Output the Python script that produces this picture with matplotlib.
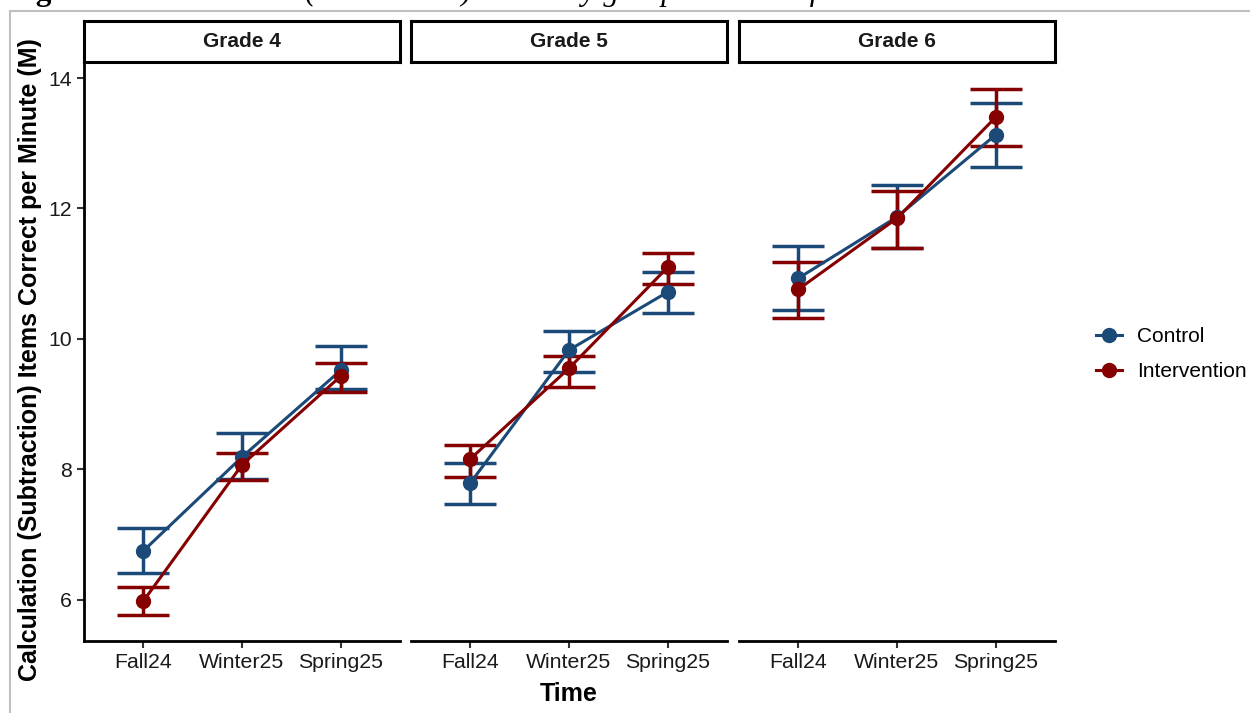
#!/usr/bin/env python3
# calculation (subtraction) scores by group over time, faceted by grade
import matplotlib
matplotlib.use('Agg')
import matplotlib.pyplot as pl
from matplotlib.lines import Line2D

pl.rcParams['font.family'] = ['Liberation Sans', 'DejaVu Sans']

times = ['Fall24', 'Winter25', 'Spring25']
grades = ['Grade 4', 'Grade 5', 'Grade 6']

# means and error bar ends, one row per grade
control_mean = [[6.75, 8.19, 9.52], [7.79, 9.83, 10.72], [10.93, 11.87, 13.13]]
control_lo = [[6.41, 7.85, 9.23], [7.47, 9.49, 10.40], [10.44, 11.39, 12.63]]
control_hi = [[7.10, 8.56, 9.89], [8.10, 10.12, 11.02], [11.42, 12.36, 13.61]]
interv_mean = [[5.98, 8.07, 9.43], [8.16, 9.55, 11.10], [10.76, 11.85, 13.40]]
interv_lo = [[5.77, 7.84, 9.19], [7.88, 9.26, 10.84], [10.32, 11.39, 12.96]]
interv_hi = [[6.20, 8.25, 9.63], [8.37, 9.74, 11.31], [11.18, 12.27, 13.83]]

blue = '#1b4a78'
red = '#850000'

W, H = 1250, 713
fig = pl.figure(figsize=(W/100, H/100), dpi=100)

def px(x, y, w, h):
    # pixel box (top-left origin) -> figure fraction
    return [x/W, 1 - (y+h)/H, w/W, h/H]

# cut-off caption and page frame from the source document
fig.text(8/W, 1 + 0.5/H, 'Figure 3.', fontsize=22.5, fontweight='bold',
         family='Liberation Serif', va='baseline')
fig.text(150/W, 1 + 0.5/H,
         'Calculation (Subtraction) scores by group over time for students in Grades 4 to 6.',
         fontsize=22.5, style='italic', family='Liberation Serif', va='baseline')
fig.add_artist(Line2D([10/W, 10/W], [0, 1 - 11/H], color='#c0c0c0', lw=1.5))
fig.add_artist(Line2D([10/W, 1], [1 - 11/H, 1 - 11/H], color='#c0c0c0', lw=1.5))

lefts = [84, 411, 739]
x = [1, 2, 3]
for i, g in enumerate(grades):
    ax = fig.add_axes(px(lefts[i], 63, 316, 578))
    for mean, lo, hi, c in [(control_mean, control_lo, control_hi, blue),
                            (interv_mean, interv_lo, interv_hi, red)]:
        m = mean[i]
        err = [[m[k] - lo[i][k] for k in range(3)], [hi[i][k] - m[k] for k in range(3)]]
        ax.errorbar(x, m, yerr=err, fmt='none', ecolor=c, elinewidth=2.5,
                    capsize=19, capthick=2.5, zorder=2)
        ax.plot(x, m, color=c, lw=2.2, marker='o', ms=10, zorder=3)
    ax.set_xlim(0.4, 3.6)
    ax.set_ylim(5.37, 14.23)
    ax.set_xticks(x)
    ax.set_xticklabels(times)
    ax.set_yticks([6, 8, 10, 12, 14])
    ax.tick_params(axis='both', length=5, width=1.5, colors='#333333', labelcolor='#1a1a1a',
                   labelsize=15.3, pad=4)
    for s in ['top', 'right']:
        ax.spines[s].set_visible(False)
    ax.spines['bottom'].set_linewidth(2)
    ax.spines['left'].set_linewidth(2)
    if i > 0:
        ax.spines['left'].set_visible(False)
        ax.tick_params(axis='y', left=False, labelleft=False)
    # facet strip
    sax = fig.add_axes(px(lefts[i], 21, 316, 41))
    sax.set_xticks([])
    sax.set_yticks([])
    for s in sax.spines.values():
        s.set_linewidth(2.2)
    sax.text(0.5, 0.5, g, ha='center', va='center', fontsize=15, fontweight='bold',
             color='#1a1a1a', transform=sax.transAxes)

fig.text(30/W, 1 - 360/H, 'Calculation (Subtraction) Items Correct per Minute (M)',
         rotation=90, ha='center', va='center', fontsize=18, fontweight='bold')
fig.text(569/W, 1 - 694/H, 'Time', ha='center', va='center', fontsize=18,
         fontweight='bold')

handles = [Line2D([], [], color=blue, lw=2.2, marker='o', ms=10),
           Line2D([], [], color=red, lw=2.2, marker='o', ms=10)]
fig.legend(handles, ['Control', 'Intervention'], loc='center left',
           bbox_to_anchor=(1077/W, 1 - 354/H), frameon=False, fontsize=15,
           handlelength=1.25, handletextpad=0.75, labelspacing=0.75)

fig.savefig('out.png', dpi=100)
